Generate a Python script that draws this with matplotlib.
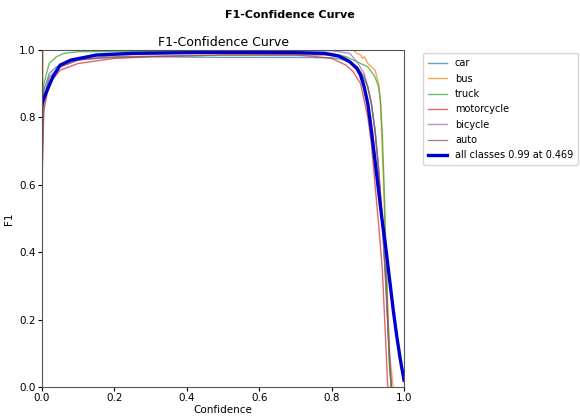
import matplotlib
matplotlib.use("Agg")
import matplotlib.pyplot as plt

# per-class F1 vs confidence
names = ["car", "bus", "truck", "motorcycle", "bicycle", "auto"]

car_x = [0, 0.005, 0.02, 0.04, 0.07, 0.1, 0.2, 0.3, 0.5, 0.7, 0.8, 0.84, 0.87, 0.89, 0.9, 0.91, 0.92, 0.93, 0.94, 0.95, 0.96, 0.965]
car_y = [0.7, 0.88, 0.93, 0.95, 0.965, 0.972, 0.978, 0.98, 0.978, 0.978, 0.977, 0.97, 0.95, 0.92, 0.89, 0.84, 0.76, 0.64, 0.48, 0.3, 0.08, 0.0]

bus_x = [0, 0.003, 0.02, 0.5, 0.86, 0.87, 0.88, 0.885, 0.89, 0.9, 0.91, 0.92, 0.925, 0.93, 0.935, 0.94, 0.95, 0.96, 0.97]
bus_y = [0.6, 1.0, 1.0, 1.0, 1.0, 0.99, 0.985, 0.975, 0.98, 0.96, 0.95, 0.94, 0.92, 0.9, 0.84, 0.7, 0.4, 0.1, 0.0]

truck_x = [0, 0.005, 0.02, 0.04, 0.06, 0.1, 0.3, 0.6, 0.8, 0.84, 0.87, 0.9, 0.92, 0.93, 0.935, 0.94, 0.945, 0.95, 0.955, 0.96, 0.965]
truck_y = [0.75, 0.9, 0.96, 0.98, 0.99, 0.995, 0.995, 0.995, 0.99, 0.98, 0.965, 0.95, 0.92, 0.89, 0.85, 0.75, 0.6, 0.4, 0.2, 0.05, 0.0]

moto_x = [0, 0.005, 0.02, 0.05, 0.1, 0.2, 0.3, 0.5, 0.7, 0.76, 0.8, 0.84, 0.86, 0.88, 0.9, 0.91, 0.92, 0.93, 0.94, 0.95, 0.955]
moto_y = [0.62, 0.82, 0.9, 0.94, 0.96, 0.975, 0.98, 0.985, 0.985, 0.98, 0.975, 0.955, 0.935, 0.9, 0.8, 0.72, 0.6, 0.48, 0.35, 0.12, 0.0]

bike_x = [0, 0.005, 0.02, 0.05, 0.1, 0.2, 0.5, 0.8, 0.85, 0.87, 0.89, 0.9, 0.91, 0.92, 0.93, 0.94, 0.95, 0.96, 0.965]
bike_y = [0.7, 0.85, 0.91, 0.95, 0.97, 0.985, 0.995, 0.998, 0.99, 0.965, 0.93, 0.89, 0.84, 0.76, 0.65, 0.5, 0.32, 0.1, 0.0]

auto_x = [0, 0.005, 0.02, 0.05, 0.1, 0.2, 0.5, 0.8, 0.84, 0.87, 0.88, 0.9, 0.91, 0.92, 0.93, 0.94, 0.95, 0.96, 0.965]
auto_y = [0.6, 0.86, 0.92, 0.95, 0.97, 0.98, 0.985, 0.985, 0.975, 0.95, 0.935, 0.89, 0.84, 0.76, 0.64, 0.5, 0.3, 0.08, 0.0]

all_x = [0, 0.01, 0.03, 0.05, 0.08, 0.15, 0.25, 0.469, 0.7, 0.78, 0.82, 0.85, 0.87, 0.88, 0.89, 0.9, 0.91, 0.92, 0.93, 0.94, 0.95, 0.96, 0.97, 0.98, 0.99, 1.0]
all_y = [0.84, 0.87, 0.92, 0.955, 0.97, 0.985, 0.99, 0.993, 0.992, 0.99, 0.982, 0.965, 0.945, 0.925, 0.89, 0.84, 0.76, 0.67, 0.58, 0.49, 0.41, 0.32, 0.23, 0.15, 0.08, 0.02]
all_label = "all classes 0.99 at 0.469"

xs = [car_x, bus_x, truck_x, moto_x, bike_x, auto_x]
ys = [car_y, bus_y, truck_y, moto_y, bike_y, auto_y]
colors = ["tab:blue", "tab:orange", "tab:green", "tab:red", "tab:purple", "tab:brown"]

fig = plt.figure(figsize=(5.8, 4.19), dpi=100)
ax = fig.add_axes([0.0724, 0.0764, 0.6242, 0.8043])

for name, x, y, c in zip(names, xs, ys, colors):
    ax.plot(x, y, color=c, linewidth=1, alpha=0.7, label=name)
ax.plot(all_x, all_y, color="#0000cc", linewidth=2.4, label=all_label)

ax.set_xlim(0, 1)
ax.set_ylim(0, 1)
ax.set_xlabel("Confidence", fontsize=7.5, labelpad=1)
ax.set_ylabel("F1", fontsize=7.5)
ax.set_title("F1-Confidence Curve", fontsize=9, pad=3)
ax.tick_params(labelsize=7.5, length=3, pad=1.5)
for s in ax.spines.values():
    s.set_color("#555555")

ax.legend(bbox_to_anchor=(1.052, 0.99), loc="upper left", borderaxespad=0,
          fontsize=7, handlelength=2.0, labelspacing=0.55, borderpad=0.5,
          frameon=True)

fig.suptitle("F1-Confidence Curve", fontsize=8, fontweight="bold", y=0.975)

fig.savefig("out.png", dpi=100)
